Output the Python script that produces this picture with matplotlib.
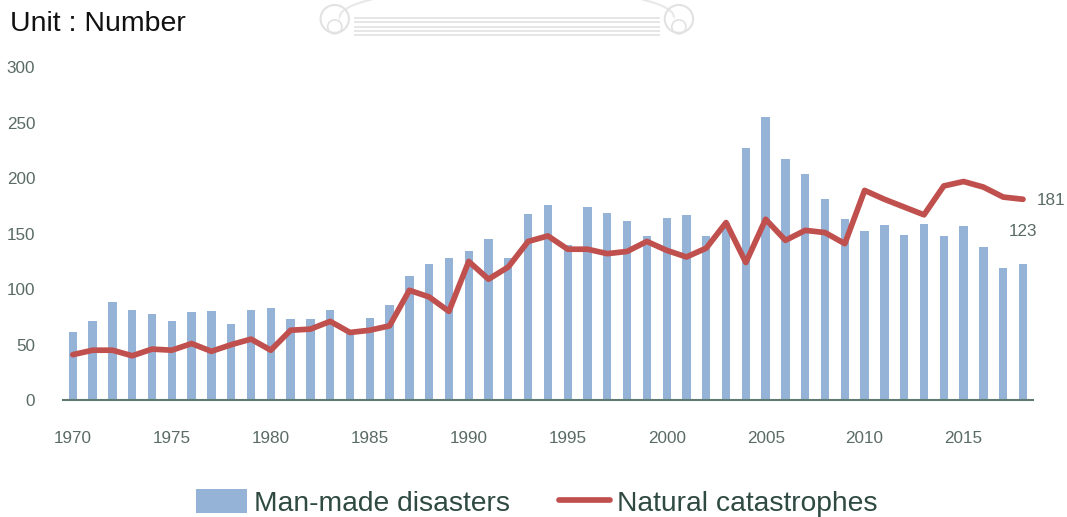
import matplotlib
matplotlib.use("Agg")
import matplotlib.pyplot as plt
from matplotlib.patches import Rectangle, Ellipse, Circle
from matplotlib.lines import Line2D

plt.rcParams['font.family'] = ['Liberation Sans', 'DejaVu Sans']

years = list(range(1970, 2019))

man_made = [61, 71, 88, 81, 78, 71, 79, 80, 69, 81,
            83, 73, 73, 81, 62, 74, 86, 112, 123, 128,
            134, 145, 128, 168, 176, 140, 174, 169, 161, 148,
            164, 167, 148, 160, 227, 255, 217, 204, 181, 163,
            152, 158, 149, 159, 148, 157, 138, 119, 123]

natural = [41, 45, 45, 40, 46, 45, 51, 44, 50, 55,
           45, 63, 64, 71, 61, 63, 67, 99, 93, 80,
           125, 109, 120, 143, 148, 136, 136, 132, 134, 143,
           135, 129, 137, 160, 124, 163, 144, 153, 151, 141,
           189, 181, 174, 167, 193, 197, 192, 183, 181]

y_ticks = [0, 50, 100, 150, 200, 250, 300]
x_ticks = [1970, 1975, 1980, 1985, 1990, 1995, 2000, 2005, 2010, 2015]

bar_color = "#95b3d7"
line_color = "#c0504d"
text_color = "#5a6b66"

fig = plt.figure(figsize=(10.67, 5.17), dpi=100)
ax = fig.add_axes([0.059, 0.226, 0.909, 0.644])

ax.bar(years, man_made, width=0.42, color=bar_color, zorder=2)
ax.plot(years, natural, color=line_color, lw=4.1, solid_joinstyle='round',
        solid_capstyle='round', zorder=3)

ax.set_xlim(1969.5, 2018.5)
ax.set_ylim(0, 300)
ax.set_yticks(y_ticks)
ax.set_xticks(x_ticks)
ax.tick_params(axis='both', length=0, labelsize=12.3, colors=text_color)
ax.tick_params(axis='x', pad=22)
ax.tick_params(axis='y', pad=20)
for lbl in ax.get_yticklabels():
    lbl.set_horizontalalignment('right')
for side in ['top', 'right', 'left']:
    ax.spines[side].set_visible(False)
ax.spines['bottom'].set_color("#5f7a70")
ax.spines['bottom'].set_linewidth(1.5)

# end-of-series value labels
ax.annotate(f"{natural[-1]}", xy=(years[-1], natural[-1]), xytext=(10, -1),
            textcoords='offset points', ha='left', va='center',
            fontsize=12.3, color=text_color, annotation_clip=False)
ax.annotate(f"{man_made[-1]}", xy=(years[-1], man_made[-1]), xytext=(0, 18),
            textcoords='offset points', ha='center', va='bottom',
            fontsize=12.3, color=text_color, annotation_clip=False)

fig.text(0.009, 0.953, "Unit : Number", fontsize=20.5, color="#111111",
         ha='left', va='center')

# faint emblem in the header
ov = fig.add_axes([0.29, 0.925, 0.37, 0.075])
ov.set_xlim(0, 390)
ov.set_ylim(0, 39)
ov.axis('off')
ov.add_patch(Ellipse((195, 22), 330, 60, fill=False, ec="#e8e8e8", lw=1.5))
ov.add_patch(Rectangle((30, 0), 330, 22, fc="white", ec="none"))
for yy in [4, 8, 12, 17, 21]:
    ov.plot([45, 345], [yy, yy], color="#e4e4e4", lw=1.3)
for cx in [25, 365]:
    ov.add_patch(Circle((cx, 20), 14, fill=False, ec="#e2e2e2", lw=1.5))
    ov.add_patch(Circle((cx, 12), 7, fill=False, ec="#e2e2e2", lw=1.2))

handles = [Rectangle((0, 0), 1, 1, fc=bar_color, ec='none'),
           Line2D([0], [0], color=line_color, lw=4.1, solid_capstyle='round')]
fig.legend(handles, ["Man-made disasters", "Natural catastrophes"],
           loc='lower center', bbox_to_anchor=(0.503, -0.049), ncol=2,
           frameon=False, fontsize=20.3, handlelength=1.8, handleheight=0.95,
           handletextpad=0.25, columnspacing=1.75, labelcolor="#2f4a42")

fig.savefig("out.png", dpi=100, facecolor='white')
